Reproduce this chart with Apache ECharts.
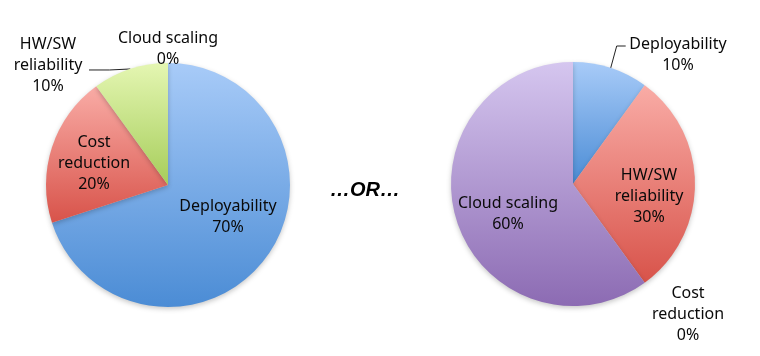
<!DOCTYPE html>
<html>
<head>
<meta charset="utf-8">
<script src="https://cdn.jsdelivr.net/npm/echarts@6/dist/echarts.min.js"></script>
<style>
html,body{margin:0;padding:0;background:#fff;}
#chart{width:760px;height:356px;}
</style>
</head>
<body>
<div id="chart"></div>
<script>
// ---- data ----
const categoriesLeft = ['Deployability', 'Cost reduction', 'HW/SW reliability', 'Cloud scaling'];
const valuesLeft = [70, 20, 10, 0];
const categoriesRight = ['Deployability', 'HW/SW reliability', 'Cost reduction', 'Cloud scaling'];
const valuesRight = [10, 30, 0, 60];
const separatorText = '…OR…';
const labelBreaks = { 'Cost reduction': 'Cost\nreduction', 'HW/SW reliability': 'HW/SW\nreliability' };

// ---- style ----
const gradStops = [
  ['#a8cbf8', '#4b8cd5'],  // blue
  ['#f9aca6', '#d8534a'],  // red
  ['#e4f6b2', '#a6cd5a'],  // green
  ['#d5c6ef', '#8c6bb3']   // purple
];
function grad(i) {
  return new echarts.graphic.LinearGradient(0, 0, 0, 1, [
    { offset: 0, color: gradStops[i][0] },
    { offset: 1, color: gradStops[i][1] }
  ]);
}
const R = 122;
const centers = [[168, 185], [573, 184]];
// label placement relative to pie centre (layout only)
const labelPos = [
  [ { dx: 60, dy: 32 }, { dx: -74, dy: -22 }, { dx: -120, dy: -120, line: 'h' }, { dx: 0, dy: -136 } ],
  [ { dx: 105, dy: -129, line: 'elbow' }, { dx: 76, dy: 12 }, { dx: 115, dy: 130 }, { dx: -65, dy: 30 } ]
];

function buildData(cats, vals) {
  return cats.map((c, i) => ({
    name: c,
    value: vals[i],
    itemStyle: { color: grad(i) }
  }));
}

const chart = echarts.init(document.getElementById('chart'), null, { renderer: 'canvas' });

function makeSeries(si, cats, vals) {
  return {
    type: 'pie',
    center: centers[si],
    radius: [0, R],
    startAngle: 90,
    clockwise: true,
    animation: false,
    silent: true,
    minShowLabelAngle: 0,
    avoidLabelOverlap: false,
    data: buildData(cats, vals),
    itemStyle: {
      borderWidth: 0,
      shadowBlur: 5,
      shadowColor: 'rgba(0,0,0,0.22)',
      shadowOffsetY: 2
    },
    label: {
      show: true,
      position: 'outside',
      fontFamily: 'Noto Sans',
      fontSize: 16,
      lineHeight: 21,
      color: '#0a0a0a',
      align: 'center',
      formatter: p => (labelBreaks[p.name] || p.name) + '\n' + Math.round(p.percent) + '%'
    },
    labelLine: {
      show: true,
      length: 10,
      length2: 10,
      lineStyle: { color: '#222', width: 1 }
    },
    labelLayout: function (p) {
      const L = labelPos[si][p.dataIndex];
      const c = centers[si];
      const out = {
        x: c[0] + L.dx,
        y: c[1] + L.dy,
        align: 'center',
        verticalAlign: 'middle'
      };
      // leader line from the slice's mid-arc point
      let start = 0;
      for (let k = 0; k < p.dataIndex; k++) start += vals[k];
      const total = vals.reduce((a, b) => a + b, 0);
      const mid = (start + vals[p.dataIndex] / 2) / total * Math.PI * 2;
      const ax = c[0] + R * Math.sin(mid), ay = c[1] - R * Math.cos(mid);
      if (L.line === 'h') {
        out.labelLinePoints = [[ax, ay], [(ax + 89) / 2, ay + 1], [89, ay + 1]];
      } else if (L.line === 'elbow') {
        const ty = c[1] + L.dy - 9;
        out.labelLinePoints = [[ax, ay], [ax + 6, ty], [ax + 15, ty]];
      } else {
        out.labelLinePoints = [[ax, ay], [ax, ay], [ax, ay]];
      }
      return out;
    }
  };
}

chart.setOption({
  backgroundColor: '#ffffff',
  animation: false,
  series: [
    makeSeries(0, categoriesLeft, valuesLeft),
    makeSeries(1, categoriesRight, valuesRight)
  ],
  graphic: [{
    type: 'text',
    left: 330,
    top: 180,
    style: {
      text: separatorText,
      fontFamily: 'Liberation Sans',
      fontSize: 20,
      fontWeight: 'bold',
      fontStyle: 'italic',
      fill: '#000'
    }
  }]
});
</script>
</body>
</html>
